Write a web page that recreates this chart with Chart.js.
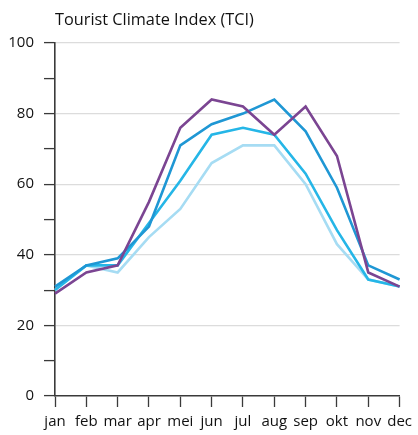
<!DOCTYPE html>
<html>
<head>
<meta charset="utf-8">
<script src="https://cdn.jsdelivr.net/npm/chart.js@4/dist/chart.umd.min.js"></script>
<style>
html,body{margin:0;padding:0;background:#fff;}
#wrap{width:418px;height:435px;position:relative;}
</style>
</head>
<body>
<div id="wrap"><canvas id="c" width="418" height="435"></canvas></div>
<script>
const titleText = 'Tourist Climate Index (TCI)';
const months = ['jan','feb','mar','apr','mei','jun','jul','aug','sep','okt','nov','dec'];
const seriesPurple = [29, 35, 37, 55, 76, 84, 82, 74, 82, 68, 35, 31];
const seriesBlue   = [31, 37, 39, 48, 71, 77, 80, 84, 75, 59, 37, 33];
const seriesCyan   = [30, 37, 37, 49, 61, 74, 76, 74, 63, 47, 33, 31];
const seriesLight  = [30, 37, 35, 45, 53, 66, 71, 71, 60, 43, 33, 31];
const yTickLabels = [0, 20, 40, 60, 80, 100];

const FONT = '"Open Sans", "DejaVu Sans", sans-serif';
const AXIS = '#3a3a3a';

const titlePlugin = {
  id: 'leftTitle',
  afterDraw(chart) {
    const ctx = chart.ctx;
    ctx.save();
    ctx.font = '16.3px ' + FONT;
    ctx.fillStyle = '#111';
    ctx.textBaseline = 'middle';
    ctx.textAlign = 'left';
    ctx.fillText(titleText, chart.chartArea.left, 20);
    ctx.restore();
  }
};

const mk = (data, color) => ({
  data, borderColor: color, backgroundColor: color,
  borderWidth: 2.6, pointRadius: 0, tension: 0, fill: false
});

new Chart(document.getElementById('c'), {
  type: 'line',
  data: {
    labels: months,
    datasets: [
      mk(seriesPurple, '#7b4592'),
      mk(seriesBlue, '#1f97d4'),
      mk(seriesCyan, '#25b6e7'),
      mk(seriesLight, '#a6dcf3')
    ]
  },
  options: {
    responsive: false,
    animation: false,
    devicePixelRatio: 1,
    layout: { padding: { top: 43, right: 15, bottom: 0, left: 0 } },
    plugins: { legend: { display: false }, tooltip: { enabled: false }, title: { display: false } },
    scales: {
      x: {
        offset: false,
        grid: { drawOnChartArea: false, tickLength: 11, tickColor: AXIS, tickWidth: 1.3 },
        border: { color: AXIS, width: 1.6 },
        ticks: { color: '#111', font: { family: FONT, size: 15 }, padding: 6, maxRotation: 0, autoSkip: false },
        afterFit(s) { s.height = 39; }
      },
      y: {
        min: 0, max: 100,
        grid: {
          color: (c) => (c.tick && c.tick.value % 20 === 0 && c.tick.value !== 0) ? '#dcdcdc' : 'rgba(0,0,0,0)',
          lineWidth: 1.2,
          tickLength: 11, tickColor: AXIS, tickWidth: 1.3
        },
        border: { color: AXIS, width: 1.6 },
        ticks: {
          stepSize: 10,
          color: '#111',
          font: { family: FONT, size: 15 },
          padding: 10,
          callback: (v) => yTickLabels.includes(v) ? String(v) : ''
        },
        afterFit(s) { s.width = 55; }
      }
    }
  },
  plugins: [titlePlugin]
});
</script>
</body>
</html>
